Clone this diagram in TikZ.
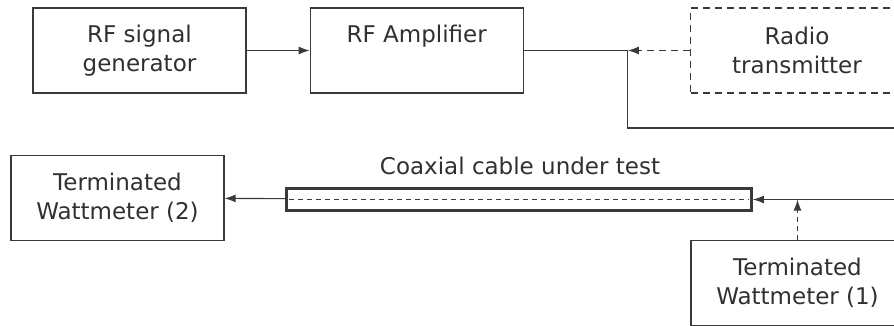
\documentclass[tikz,border=0pt]{standalone}
\usepackage{fontspec}
\setmainfont{DejaVu Sans}
\usetikzlibrary{positioning,arrows.meta}
\definecolor{linegray}{HTML}{3A3A3A}
\definecolor{textgray}{HTML}{303030}
\tikzset{
  block/.style={draw=linegray, line width=1.2pt, minimum width=213pt,
    minimum height=85pt, inner sep=0pt, align=center, text=textgray},
  dashbox/.style={block, dash pattern=on 7pt off 5pt},
  cable/.style={draw=linegray, line width=2.8pt, minimum width=465pt,
    minimum height=22.5pt, inner sep=0pt},
  >={Latex[length=11pt,width=8pt]},
}

\begin{document}
\begin{tikzpicture}[
  x=1pt,y=-1pt,
  line width=1.1pt, draw=linegray,
  font=\fontsize{23}{28.5}\selectfont
]
\path[use as bounding box, clip] (0,0) rectangle (894,326);

\node[block] (gen) at (139.5,50.5) {RF signal\\generator};
\node[block,right=63pt of gen] (amp) {RF Amplifier\\\phantom{g}};
\node[dashbox] (radio) at (797,50.5) {Radio\\transmitter};

\node[block] (wm2) at (117.5,198) {Terminated\\Wattmeter (2)};
\node[cable] (coax) at (519,199.5) {};
\node[text=textgray,anchor=base] (coaxlabel) at (520,175) {Coaxial cable under test};
\node[block] (wm1) at (797.5,283) {Terminated\\Wattmeter (1)};

\coordinate[right=104pt of amp] (j1);
\coordinate (e1) at (910,128);
\coordinate (j2) at (wm1.north |- coax.east);
\coordinate (e2) at (910,199.5);

\draw[->] (gen) -- (amp);
\draw (amp) -- (j1);
\draw[->,dash pattern=on 7pt off 5pt] (radio) -- (j1);
\draw (j1) |- (e1);

\draw[->] (e2) -- (coax);
\draw[->,dash pattern=on 5pt off 4pt] (wm1) -- (j2);
\draw[->] (coax) -- (wm2);
\draw[line width=0.8pt,dash pattern=on 5pt off 4pt]
  ([xshift=4pt]coax.west) -- ([xshift=-4pt]coax.east);

\end{tikzpicture}
\end{document}
